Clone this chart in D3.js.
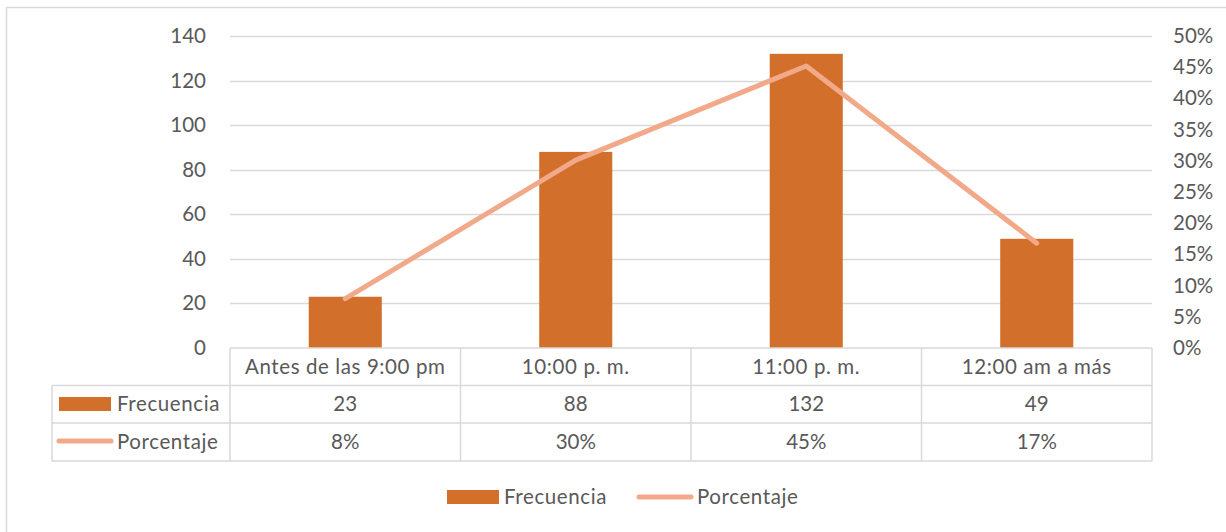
<!DOCTYPE html>
<html><head><meta charset="utf-8">
<script src="https://cdn.jsdelivr.net/npm/d3@7"></script>
<style>
html,body{margin:0;padding:0;background:#fff;}
text{font-family:"Lato","Open Sans",sans-serif;fill:#595959;}
.ls{letter-spacing:0.6px;}
</style></head>
<body><svg id="c" width="1226" height="532"></svg>
<script>
const categories = ["Antes de las 9:00 pm","10:00 p. m.","11:00 p. m.","12:00 am a más"];
const frecuencia = [23, 88, 132, 49];
const porcentaje = [0.079, 0.301, 0.452, 0.168];
const porcentajeLabels = ["8%","30%","45%","17%"];
const leftTicks = [0,20,40,60,80,100,120,140];
const rightTicks = [0,0.05,0.10,0.15,0.20,0.25,0.30,0.35,0.40,0.45,0.50];
const seriesNames = ["Frecuencia","Porcentaje"];

const barColor = "#D2702B", lineColor = "#F2A98A", gridColor = "#D9D9D9";
const svg = d3.select("#c");
const L = 230, R = 1152, T = 36, B = 348;
const fs = 20.5;

// outer border
svg.append("path").attr("d","M6.5,532 V7.5 H1226").attr("fill","none").attr("stroke","#d9d9d9").attr("stroke-width",1.5);

const x = d3.scaleBand().domain(categories).range([L,R]).paddingInner(0.683).paddingOuter(0.3415);
const xc = d3.scaleBand().domain(categories).range([L,R]);
const y = d3.scaleLinear().domain([0,140]).range([B,T]);
const y2 = d3.scaleLinear().domain([0,0.5]).range([B,T]);

// gridlines
svg.append("g").selectAll("line").data(leftTicks.slice(1)).join("line")
  .attr("x1",L).attr("x2",R).attr("y1",d=>Math.round(y(d))+0.5).attr("y2",d=>Math.round(y(d))+0.5)
  .attr("stroke",gridColor).attr("stroke-width",1.3);

// left axis
const ly = svg.append("g").attr("transform",`translate(${L},0)`)
  .call(d3.axisLeft(y).tickValues(leftTicks).tickSize(0).tickPadding(24));
ly.select(".domain").remove();
ly.selectAll("text").attr("font-size",fs).attr("font-family",null).attr("fill","#595959");

// right axis
const ry = svg.append("g").attr("transform",`translate(${R},0)`)
  .call(d3.axisRight(y2).tickValues(rightTicks).tickSize(0).tickPadding(21).tickFormat(d3.format(".0%")));
ry.select(".domain").remove();
ry.selectAll("text").attr("font-size",fs).attr("font-family",null).attr("fill","#595959");

// bars
svg.append("g").selectAll("rect").data(frecuencia).join("rect")
  .attr("x",(d,i)=>x(categories[i])).attr("width",x.bandwidth())
  .attr("y",d=>y(d)).attr("height",d=>y(0)-y(d)).attr("fill",barColor);

// line
svg.append("path").datum(porcentaje)
  .attr("d",d3.line().x((d,i)=>xc(categories[i])+xc.bandwidth()/2).y(d=>y2(d)))
  .attr("fill","none").attr("stroke",lineColor).attr("stroke-width",5).attr("stroke-linecap","round").attr("stroke-linejoin","round");

// data table
const tb = svg.append("g");
const rows = [B, 385.5, 423, 461];
const tableLeft = 52;
const lc = "#D9D9D9";
function hline(x1,x2,yy){tb.append("line").attr("x1",x1).attr("x2",x2).attr("y1",yy).attr("y2",yy).attr("stroke",lc).attr("stroke-width",1.5);}
function vline(xx,y1,y2v){tb.append("line").attr("x1",xx).attr("x2",xx).attr("y1",y1).attr("y2",y2v).attr("stroke",lc).attr("stroke-width",1.5);}
hline(L,R,B);
hline(tableLeft,R,rows[1]);
hline(tableLeft,R,rows[2]);
hline(tableLeft,R,rows[3]);
vline(tableLeft,rows[1],rows[3]);
categories.forEach(c=>vline(xc(c),B,rows[3]));
vline(R,B,rows[3]);

const cellMid = i => (rows[i]+rows[i+1])/2;
tb.selectAll("text.cat").data(categories).join("text").attr("class","cat ls")
  .attr("x",d=>xc(d)+xc.bandwidth()/2).attr("y",cellMid(0)).attr("dy","0.35em")
  .attr("text-anchor","middle").attr("font-size",fs).text(d=>d);
tb.selectAll("text.fr").data(frecuencia).join("text").attr("class","fr")
  .attr("x",(d,i)=>xc(categories[i])+xc.bandwidth()/2).attr("y",cellMid(1)).attr("dy","0.35em")
  .attr("text-anchor","middle").attr("font-size",fs).text(d=>d);
tb.selectAll("text.pc").data(porcentajeLabels).join("text").attr("class","pc")
  .attr("x",(d,i)=>xc(categories[i])+xc.bandwidth()/2).attr("y",cellMid(2)).attr("dy","0.35em")
  .attr("text-anchor","middle").attr("font-size",fs).text(d=>d);

// table legend keys
tb.append("rect").attr("x",59).attr("y",397).attr("width",52).attr("height",14).attr("fill",barColor);
tb.append("text").attr("class","ls").attr("x",117).attr("y",cellMid(1)).attr("dy","0.35em").attr("font-size",fs).text(seriesNames[0]);
tb.append("line").attr("x1",59).attr("x2",111).attr("y1",441).attr("y2",441).attr("stroke",lineColor).attr("stroke-width",5).attr("stroke-linecap","round");
tb.append("text").attr("class","ls").attr("x",117).attr("y",cellMid(2)).attr("dy","0.35em").attr("font-size",fs).text(seriesNames[1]);

// legend
const lg = svg.append("g");
lg.append("rect").attr("x",447).attr("y",490).attr("width",52).attr("height",14).attr("fill",barColor);
lg.append("text").attr("class","ls").attr("x",504).attr("y",497).attr("dy","0.35em").attr("font-size",fs).text(seriesNames[0]);
lg.append("line").attr("x1",639).attr("x2",691).attr("y1",497).attr("y2",497).attr("stroke",lineColor).attr("stroke-width",5).attr("stroke-linecap","round");
lg.append("text").attr("class","ls").attr("x",697).attr("y",497).attr("dy","0.35em").attr("font-size",fs).text(seriesNames[1]);
</script></body></html>
